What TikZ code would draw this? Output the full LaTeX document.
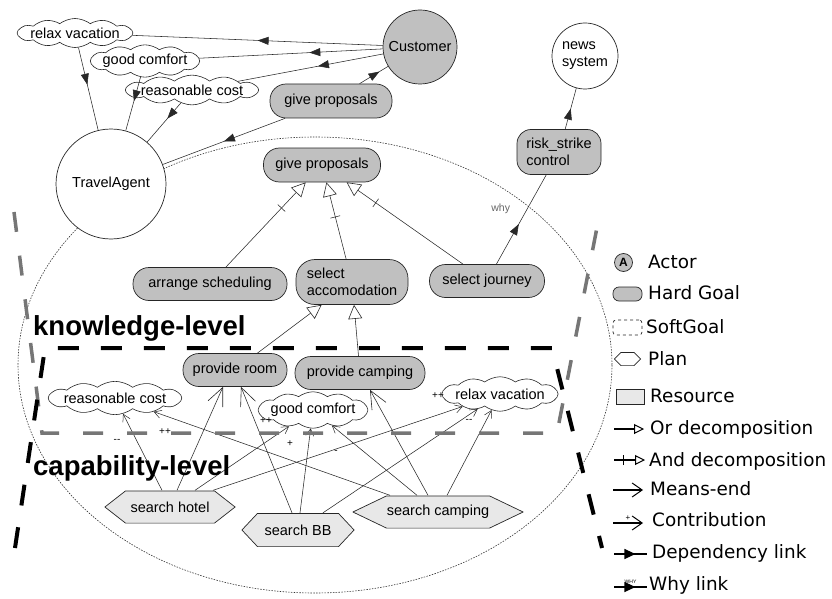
\documentclass[tikz,border=0pt]{standalone}
\usepackage{fontspec}
\setmainfont{Liberation Sans}
\newfontfamily\legendfont{DejaVu Sans}
\usetikzlibrary{arrows.meta,decorations.markings,shapes.symbols,calc}
\definecolor{goalgray}{RGB}{192,192,192}
\definecolor{planfill}{RGB}{232,232,232}
\definecolor{levelgray}{RGB}{118,118,118}
\definecolor{edgecol}{RGB}{40,40,40}
\begin{document}
\begin{tikzpicture}[x=1pt,y=-1pt,
  nodefont/.style={font=\fontsize{14.5}{17}\selectfont},
  actor/.style={circle, draw=black!85, line width=0.7pt, inner sep=0pt, nodefont},
  hardgoal/.style={rectangle, rounded corners=#1, draw=black!85, line width=0.7pt, fill=goalgray, inner sep=0pt, nodefont},
  hardgoal/.default=16pt,
  softgoal/.style={cloud, cloud ignores aspect, cloud puffs=12, cloud puff arc=75, draw=black!85, line width=0.6pt, fill=white,
    inner xsep=-3pt, inner ysep=#1, nodefont},
  softgoal/.default=2pt,
  plan/.style 2 args={rectangle, inner sep=0pt, nodefont,
    path picture={\draw[line width=0.7pt, draw=black!85, fill=#2]
      ($(path picture bounding box.west)+(0.4,0)$) --
      ($(path picture bounding box.north west)+(#1,0.4)$) --
      ($(path picture bounding box.north east)+(-#1,0.4)$) --
      ($(path picture bounding box.east)+(-0.4,0)$) --
      ($(path picture bounding box.south east)+(-#1,-0.4)$) --
      ($(path picture bounding box.south west)+(#1,-0.4)$) -- cycle;}},
  link/.style={draw=edgecol, line width=0.55pt},
  dep/.style={link, postaction={decorate}, decoration={markings, mark=at position #1 with {\arrow{Triangle[length=11pt,width=8pt]}}}},
  ordec/.style={link, -{Triangle[open, length=14pt, width=14pt, line width=0.6pt]}},
  anddec/.style={ordec, postaction={decorate}, decoration={markings, mark=at position #1 with {\draw[link, -] (0pt,-5pt) -- (0pt,5pt);}}},
  meansend/.style={link, -{Straight Barb[length=18pt, width=16pt, line width=0.6pt]}},
  contrib/.style={link, -{Straight Barb[length=7pt, width=8pt, line width=0.5pt]}},
  clabel/.style={font=\fontsize{10}{10}\selectfont, inner sep=0pt},
  whylabel/.style={font=\fontsize{10.5}{10.5}\selectfont, text=black!60, inner sep=0pt},
  levellabel/.style={font=\bfseries\fontsize{27.5}{28}\selectfont, inner sep=0pt, anchor=base west},
  levelblack/.style={line width=4pt, black, dash pattern=on 21pt off 22pt},
  levelgraystyle/.style={line width=3.5pt, levelgray, dash pattern=on 20pt off 24pt},
  boundary/.style={draw=black!80, line width=0.6pt, dash pattern=on 1.5pt off 1.3pt},
  legtext/.style={font=\legendfont\fontsize{18.4}{19}\selectfont, inner sep=0pt, anchor=base west},
  legline/.style={draw=black, line width=1.1pt},
]
\useasboundingbox (0,0) rectangle (832,599);

% actor boundary
\draw[boundary] (315,365) ellipse [x radius=297, y radius=228];

% actors
\node[actor, fill=goalgray, minimum size=74pt] (cust) at (420,47) {Customer};
\node[actor, fill=white, minimum size=110pt] (ta) at (111,184) {TravelAgent};
\node[actor, fill=white, minimum size=66pt, align=left] (news) at (585,56) {news\\system};

% top soft goals
\node[softgoal=1.5pt] (rv1) at (75,33) {relax vacation};
\node[softgoal=1.5pt] (gc1) at (145,61) {good comfort};
\node[softgoal=1.2pt] (rc1) at (192,90) {reasonable cost};

% hard goals
\node[hardgoal, minimum width=122pt, minimum height=34pt] (gp1) at (331,101) {give proposals};
\node[hardgoal, minimum width=117pt, minimum height=34pt] (gp2) at (322,165) {give proposals};
\node[hardgoal, minimum width=154pt, minimum height=33pt] (as) at (210,284) {arrange scheduling};
\node[hardgoal=19pt, minimum width=112pt, minimum height=45pt, align=left] (sa) at (352,282) {select\\accomodation};
\node[hardgoal, minimum width=115pt, minimum height=33pt] (sj) at (487,281) {select journey};
\node[hardgoal=14pt, minimum width=84pt, minimum height=45pt, align=left] (rs) at (559,152) {risk\_strike\\control};
\node[hardgoal, minimum width=104pt, minimum height=33pt] (pr) at (235,370) {provide room};
\node[hardgoal, minimum width=130pt, minimum height=33pt] (pc) at (360,373) {provide camping};

% lower soft goals
\node[softgoal=2.5pt] (rc2) at (115,398) {reasonable cost};
\node[softgoal=3pt] (gc2) at (313,410) {good comfort};
\node[softgoal=3.5pt] (rv2) at (500,394) {relax vacation};

% plans
\node[plan={21}{planfill}, minimum width=131pt, minimum height=33pt] (sh) at (170,507) {search hotel};
\node[plan={16}{planfill}, minimum width=113pt, minimum height=34pt] (sbb) at (298,530) {search BB};
\node[plan={34}{planfill}, minimum width=171pt, minimum height=33pt] (sc) at (438,512) {search camping};

% dependencies
\draw[dep=0.5] (cust) -- (rv1);
\draw[dep=0.45] (rv1) -- (ta);
\draw[dep=0.4] (cust) -- (gc1);
\draw[dep=0.45] (gc1) -- (ta);
\draw[dep=0.45] (cust) -- (rc1);
\draw[dep=0.4] (rc1) -- (ta);
\draw[dep=0.7] (gp1) -- (cust);
\draw[dep=0.5] (gp1) -- (ta);
\draw[dep=0.5] (rs) -- (news);
\draw[dep=0.45] (sj) -- node[whylabel, pos=0.62, left=17pt] {why} (rs);

% decompositions
\draw[anddec=0.7] (as) -- (gp2);
\draw[anddec=0.55] (sa) -- (gp2);
\draw[anddec=0.75] (sj) -- (gp2);
\draw[ordec] (pr) -- (sa);
\draw[ordec] (pc) -- (sa);

% means-end
\draw[meansend] ([xshift=7pt]sh.north) -- ([xshift=-12pt]pr.south);
\draw[meansend] ([xshift=-6pt]sbb.north) -- ([xshift=6pt]pr.south);
\draw[meansend] ([xshift=-10pt]sc.north) -- ([xshift=10pt]pc.south);

% contributions
\draw[contrib] ([xshift=-8pt]sh.north) -- (rc2);
\draw[contrib] ([xshift=25pt]sh.north) -- (gc2);
\draw[contrib] ([xshift=43pt]sh.north) -- (rv2);
\draw[contrib] ([xshift=2pt]sbb.north) -- (gc2);
\draw[contrib] ([xshift=25pt]sbb.north) -- (rv2);
\draw[contrib] ([xshift=-48pt]sc.north) -- (rc2);
\draw[contrib] ([xshift=-21pt]sc.north) -- (gc2);
\draw[contrib] ([xshift=9pt]sc.north) -- (rv2);

% contribution labels
\node[clabel] (c1) at (117,441) {-{}-};
\node[clabel] (c2) at (165,432) {++};
\node[clabel] (c3) at (266,421) {++};
\node[clabel] (c4) at (290,444) {+};
\node[clabel] (c5) at (336,452) {-};
\node[clabel] (c6) at (438,396) {++};
\node[clabel] (c7) at (469,421) {-{}-};

% level regions
\draw[levelgraystyle] (14,212) -- (42,433) -- (557,433) -- (600,212);
\draw[levelblack] (15,548) -- (45,348) -- (552,348) -- (602,548);
\node[levellabel] (kl) at (33,335) {knowledge-level};
\node[levellabel] (cl) at (33,475) {capability-level};

% legend
\node[actor, fill=goalgray, minimum size=18pt, font=\bfseries\fontsize{12}{12}\selectfont] (lact) at (623.5,262.5) {A};
\node[legtext] (tact) at (648,268) {Actor};
\node[hardgoal=6pt, minimum width=29pt, minimum height=14pt] (lhg) at (627.5,294) {};
\node[legtext] (thg) at (648,299) {Hard Goal};
\node[draw=black!85, line width=0.7pt, dashed, rounded corners=3pt, minimum width=29pt, minimum height=15pt, inner sep=0pt] (lsg) at (627.5,327.5) {};
\node[legtext] (tsg) at (646,333) {SoftGoal};
\node[plan={7}{white}, minimum width=27pt, minimum height=14pt] (lpl) at (627.5,359) {};
\node[legtext] (tpl) at (648,365) {Plan};
\node[draw=black!85, line width=0.7pt, fill=planfill, minimum width=28pt, minimum height=15pt, inner sep=0pt] (lres) at (630,396.5) {};
\node[legtext] (tres) at (650,402) {Resource};

\coordinate (lo1) at (614,429); \coordinate (lo2) at (644,429);
\draw[legline, -{Triangle[open,length=10pt,width=10pt,line width=1pt]}] (lo1) -- (lo2);
\node[legtext] (tor) at (650,434) {Or decomposition};

\coordinate (la1) at (614,460); \coordinate (la2) at (645,460);
\draw[legline, -{Triangle[open,length=10pt,width=10pt,line width=1pt]}, postaction={decorate},
  decoration={markings, mark=at position 0.3 with {\draw[legline, -] (0pt,-5pt) -- (0pt,5pt);}}] (la1) -- (la2);
\node[legtext] (tand) at (649,466) {And decomposition};

\coordinate (lm1) at (613,490); \coordinate (lm2) at (643,490);
\draw[legline, -{Straight Barb[length=10pt,width=14pt,line width=1pt]}] (lm1) -- (lm2);
\node[legtext] (tme) at (650,495) {Means-end};

\coordinate (lc1) at (613,523); \coordinate (lc2) at (643,523);
\draw[legline, -{Straight Barb[length=10pt,width=14pt,line width=1pt]}] (lc1) -- node[above=1.5pt, inner sep=0pt, font=\fontsize{8}{8}\selectfont] {+} (lc2);
\node[legtext] (tco) at (652,526) {Contribution};

\coordinate (ld1) at (614,554); \coordinate (ld2) at (647,554);
\draw[legline, postaction={decorate}, decoration={markings, mark=at position 0.65 with {\arrow{Triangle[length=11pt,width=10pt]}}}] (ld1) -- (ld2);
\node[legtext] (tdep) at (652,558) {Dependency link};

\coordinate (lw1) at (614,587); \coordinate (lw2) at (647,587);
\draw[legline, postaction={decorate}, decoration={markings, mark=at position 0.65 with {\arrow{Triangle[length=11pt,width=10pt]}}}] (lw1) -- node[above=3pt, inner sep=0pt, font=\fontsize{5}{5}\selectfont] {WHY} (lw2);
\node[legtext] (twhy) at (649,590) {Why link};
\end{tikzpicture}
\end{document}
